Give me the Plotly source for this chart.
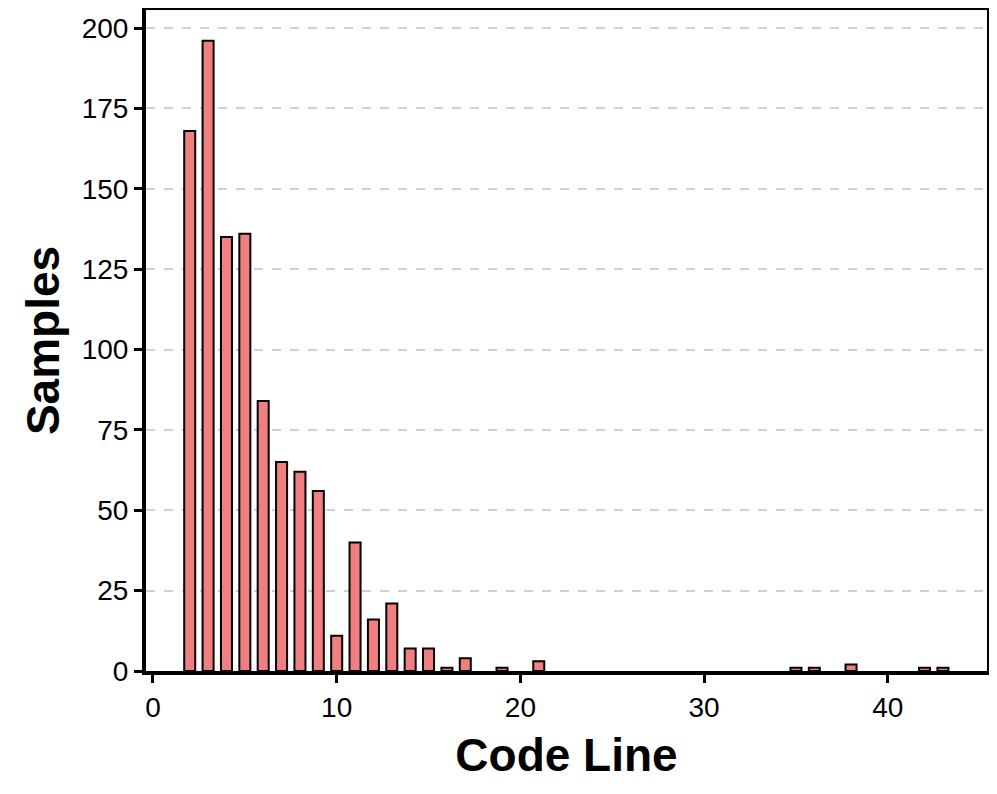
import plotly.graph_objects as go

code_line = [2, 3, 4, 5, 6, 7, 8, 9, 10, 11, 12, 13, 14, 15, 16, 17, 19, 21, 35, 36, 38, 42, 43]
samples = [168, 196, 135, 136, 84, 65, 62, 56, 11, 40, 16, 21, 7, 7, 1, 4, 1, 3, 1, 1, 2, 1, 1]

fig = go.Figure(go.Bar(
    x=code_line, y=samples, width=0.6,
    marker=dict(color="#F08080", line=dict(color="black", width=2)),
))

font = "Liberation Sans, Arial, sans-serif"
fig.update_layout(
    width=997, height=794,
    margin=dict(l=138, r=18, t=2, b=131),
    plot_bgcolor="white", paper_bgcolor="white",
    showlegend=False,
    font=dict(family=font, size=28, color="black"),
    xaxis=dict(
        range=[-0.38, 45.4], tickvals=[0, 10, 20, 30, 40],
        showline=True, linecolor="black", linewidth=4, mirror=True,
        ticks="outside", ticklen=8, tickwidth=3, tickcolor="black",
        showgrid=False, zeroline=False, automargin=False,
        title=dict(text="<b>Code Line</b>", font=dict(size=46, family=font), standoff=18),
    ),
    yaxis=dict(
        range=[0, 205.6], tickvals=[0, 25, 50, 75, 100, 125, 150, 175, 200],
        showline=True, linecolor="black", linewidth=4, mirror=True,
        ticks="outside", ticklen=8, tickwidth=3, tickcolor="black",
        showgrid=True, gridcolor="#d0d0d0", griddash="dash", gridwidth=1.5,
        zeroline=False, automargin=False,
        title=dict(text="<b>Samples</b>", font=dict(size=46, family=font), standoff=9),
    ),
)

fig.write_html("out.html")
